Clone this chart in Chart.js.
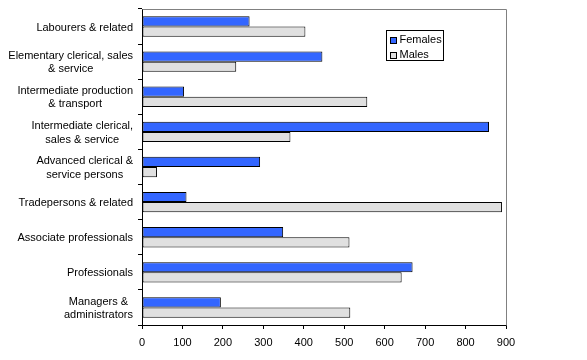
<!DOCTYPE html>
<html>
<head>
<meta charset="utf-8">
<script src="https://cdn.jsdelivr.net/npm/chart.js@4/dist/chart.umd.min.js"></script>
<style>
  html, body { margin: 0; padding: 0; background: #fff; }
  #wrap { width: 587px; height: 360px; position: relative; }
</style>
</head>
<body>
<div id="wrap"><canvas id="c" width="587" height="360"></canvas></div>
<script>
const categories = [
  ["Labourers & related"],
  ["Elementary clerical, sales", "& service"],
  ["Intermediate production", "& transport"],
  ["Intermediate clerical,", "sales & service"],
  ["Advanced clerical &", "service persons"],
  ["Tradepersons & related"],
  ["Associate professionals"],
  ["Professionals"],
  ["Managers &", "administrators"]
];
const females = [266, 446, 104, 858, 292, 110, 349, 669, 195];
const males   = [404, 233, 557, 367, 37, 890, 513, 642, 515];
const xTicks  = [0, 100, 200, 300, 400, 500, 600, 700, 800, 900];

const FONT = "'Liberation Sans', Arial, sans-serif";

const labelPlugin = {
  id: 'customLabels',
  afterDraw(chart) {
    const ctx = chart.ctx;
    const y = chart.scales.y;
    const area = chart.chartArea;
    ctx.save();
    ctx.font = "11px " + FONT;
    ctx.fillStyle = "#000";
    ctx.textBaseline = "middle";
    ctx.textAlign = "center";
    const rightEdge = area.left - 9;
    const lh = 13.3;
    chart.data.labels.forEach((lines, i) => {
      const cy = y.getPixelForTick(i) + 1;
      const w = Math.max(...lines.map(l => ctx.measureText(l).width));
      const cx = rightEdge - w / 2;
      const y0 = cy - (lines.length - 1) * lh / 2;
      lines.forEach((l, k) => ctx.fillText(l, cx, y0 + k * lh));
    });
    // plot border top/right (grey)
    ctx.strokeStyle = "#808080";
    ctx.lineWidth = 1;
    ctx.beginPath();
    ctx.moveTo(Math.round(area.left) + 0.5, Math.round(area.top) + 0.5);
    ctx.lineTo(Math.round(area.right) + 0.5, Math.round(area.top) + 0.5);
    ctx.lineTo(Math.round(area.right) + 0.5, Math.round(area.bottom) + 0.5);
    ctx.stroke();
    // legend box
    const lx = 386.5, ly = 30.5, lw = 57, lhgt = 30;
    ctx.fillStyle = "#fff";
    ctx.fillRect(lx, ly, lw, lhgt);
    ctx.strokeStyle = "#000";
    ctx.strokeRect(lx, ly, lw, lhgt);
    ctx.textAlign = "left";
    chart.data.datasets.forEach((ds, i) => {
      const rowY = 40 + i * 14.5;
      ctx.fillStyle = ds.backgroundColor;
      ctx.fillRect(390.5, Math.round(rowY - 3) + 0.5, 6, 6);
      ctx.strokeRect(390.5, Math.round(rowY - 3) + 0.5, 6, 6);
      ctx.fillStyle = "#000";
      ctx.fillText(ds.label, 399.5, rowY);
    });
    ctx.restore();
  }
};

new Chart(document.getElementById('c'), {
  type: 'bar',
  data: {
    labels: categories,
    datasets: [
      { label: 'Females', data: females, backgroundColor: '#3366FF', borderColor: '#000', borderWidth: 1, borderSkipped: false,
        categoryPercentage: 0.58, barPercentage: 1 },
      { label: 'Males', data: males, backgroundColor: '#E0E0E0', borderColor: '#000', borderWidth: 1, borderSkipped: false,
        categoryPercentage: 0.58, barPercentage: 1 }
    ]
  },
  options: {
    indexAxis: 'y',
    responsive: false,
    animation: false,
    devicePixelRatio: 1,
    layout: { padding: { top: 9, right: 81, left: 0, bottom: 0 } },
    plugins: { legend: { display: false }, tooltip: { enabled: false } },
    scales: {
      x: {
        min: 0, max: 900,
        afterBuildTicks(s) { s.ticks = xTicks.map(v => ({ value: v })); },
        afterFit(s) { s.height = 35; },
        ticks: { color: '#000', font: { family: FONT, size: 11 }, padding: 7, maxRotation: 0 },
        grid: { drawOnChartArea: false, drawTicks: true, tickLength: 4, color: '#000' },
        border: { color: '#000', width: 1 }
      },
      y: {
        afterFit(s) { s.width = 142; },
        ticks: { display: false },
        grid: { drawOnChartArea: false, drawTicks: true, tickLength: 4, color: '#000', offset: true },
        border: { color: '#000', width: 1 }
      }
    }
  },
  plugins: [labelPlugin]
});
</script>
</body>
</html>
